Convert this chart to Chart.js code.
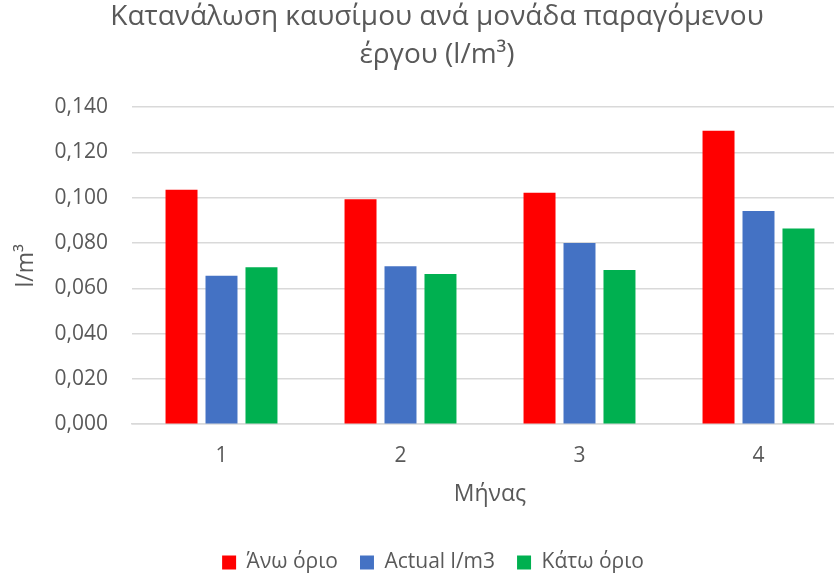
<!DOCTYPE html>
<html>
<head>
<meta charset="utf-8">
<script src="https://cdn.jsdelivr.net/npm/chart.js@4"></script>
<style>
  html, body { margin: 0; padding: 0; background: #fff; overflow: hidden; }
  #wrap { width: 834px; height: 575px; overflow: hidden; }
  #fuelChart { display: block; }
</style>
</head>
<body>
<div id="wrap"><canvas id="fuelChart" width="848" height="575"></canvas></div>
<script>
const months = ['1', '2', '3', '4'];
const upperLimit = [0.1035, 0.0993, 0.1022, 0.1296];
const actual = [0.0655, 0.0697, 0.0800, 0.0941];
const lowerLimit = [0.0693, 0.0663, 0.0681, 0.0864];

const seriesNames = ['Άνω όριο', 'Actual l/m3', 'Κάτω όριο'];
const seriesColors = ['#FF0000', '#4472C4', '#00B050'];

const textColor = '#595959';
const gridColor = '#d9d9d9';
const fontFamily = '"Open Sans", "Noto Sans", sans-serif';

// the plot runs past the right edge of the frame, so the title and legend
// are centred on the visible frame instead of the wider canvas
const titleCenterX = 437;
const legendCenterX = 433;
const legendDrop = 8;
const yAxisWidth = 124;

Chart.defaults.font.family = fontFamily;
Chart.defaults.color = textColor;

function centerBox(box, cx) {
  if (!box) return;
  const w = box.right - box.left;
  box.left = cx - w / 2;
  box.right = cx + w / 2;
}

const recenter = {
  id: 'recenter',
  afterLayout(chart) {
    centerBox(chart.titleBlock, titleCenterX);
    centerBox(chart.legend, legendCenterX);
    chart.legend.top += legendDrop;
    chart.legend.bottom += legendDrop;
  }
};

const data = {
  labels: months,
  datasets: [upperLimit, actual, lowerLimit].map(function (values, i) {
    return {
      label: seriesNames[i],
      data: values,
      backgroundColor: seriesColors[i],
      borderWidth: 0,
      categoryPercentage: 0.67,
      barPercentage: 0.8
    };
  })
};

const config = {
  type: 'bar',
  data: data,
  plugins: [recenter],
  options: {
    responsive: false,
    devicePixelRatio: 1,
    animation: false,
    layout: {
      padding: { left: 8, right: 0, top: 0, bottom: 0 }
    },
    plugins: {
      title: {
        display: true,
        text: ['Κατανάλωση καυσίμου ανά μονάδα παραγόμενου', 'έργου (l/m³)'],
        color: textColor,
        font: { size: 28, weight: 'normal', lineHeight: 1.36 },
        padding: { top: -2, bottom: 33 }
      },
      legend: {
        position: 'bottom',
        labels: {
          color: textColor,
          font: { size: 21 },
          boxWidth: 14,
          boxHeight: 14,
          padding: 22
        }
      },
      tooltip: { enabled: false }
    },
    scales: {
      x: {
        grid: { display: false },
        border: { color: gridColor, width: 1.5 },
        ticks: { color: textColor, font: { size: 21 }, padding: 11 },
        title: {
          display: true,
          text: 'Μήνας',
          color: textColor,
          font: { size: 23 },
          padding: { top: 1, bottom: 14 }
        }
      },
      y: {
        min: 0,
        max: 0.14,
        afterFit: function (scale) { scale.width = yAxisWidth; },
        grid: { color: gridColor, lineWidth: 1.5, drawTicks: false },
        border: { display: false },
        ticks: {
          stepSize: 0.02,
          padding: 24,
          color: textColor,
          font: { size: 21 },
          callback: function (v) { return v.toFixed(3).replace('.', ','); }
        },
        title: {
          display: true,
          text: 'l/m³',
          color: textColor,
          font: { size: 23 },
          padding: { top: 5, bottom: 16 }
        }
      }
    }
  }
};

new Chart(document.getElementById('fuelChart'), config);
</script>
</body>
</html>
